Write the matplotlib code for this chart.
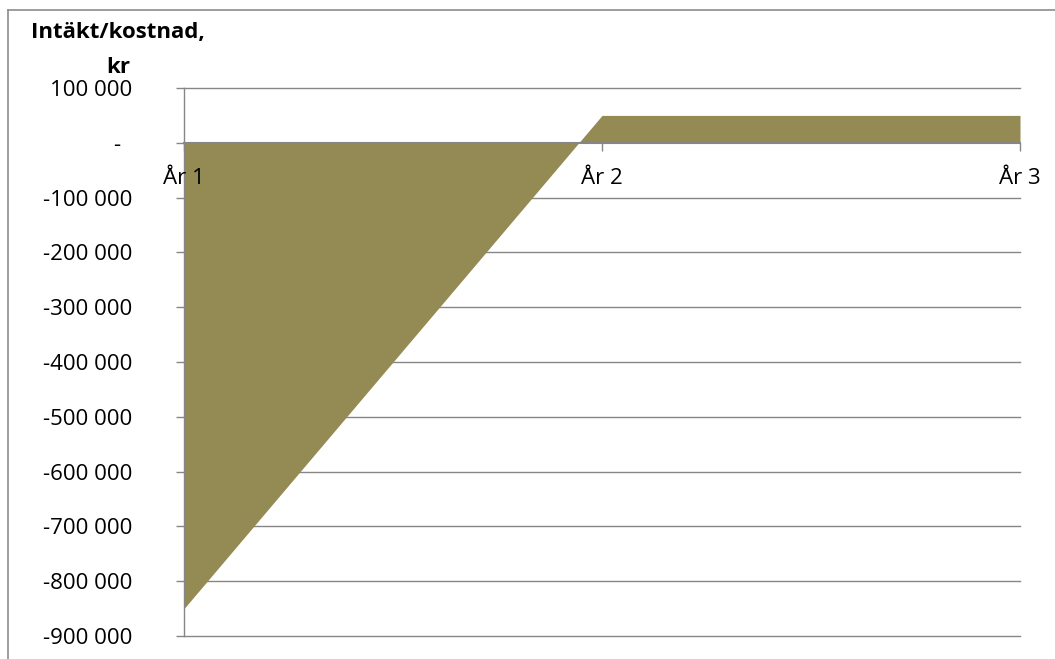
import matplotlib
matplotlib.use("Agg")
import matplotlib.pyplot as plt
from matplotlib.lines import Line2D
from matplotlib.ticker import FuncFormatter

categories = ["År 1", "År 2", "År 3"]
values = [-850000, 50000, 50000]
yticks = [100000, 0, -100000, -200000, -300000, -400000, -500000,
          -600000, -700000, -800000, -900000]
title_text = "Intäkt/kostnad,\nkr"

W, H = 1055, 659
fig = plt.figure(figsize=(W / 100, H / 100), dpi=100)
plt.rcParams['font.family'] = ['Open Sans', 'DejaVu Sans']

left, right, top, bottom = 184, 1020, 88, 636
ax = fig.add_axes([left / W, 1 - bottom / H, (right - left) / W, (bottom - top) / H])

fill_color = '#948A54'
grid_color = '#868686'

x = list(range(len(categories)))
ax.fill_between(x, values, 0, color=fill_color, linewidth=0, zorder=2)

ax.set_xlim(0, len(categories) - 1)
ax.set_ylim(-900000, 100000)
ax.set_yticks(yticks)
for yv in yticks:
    if yv != 0:
        ax.axhline(yv, color=grid_color, linewidth=1.0, zorder=1, clip_on=False)

def fmt(v, pos):
    if abs(v) < 1:
        return "-  "
    return f"{int(round(v)):,}".replace(",", " ")

ax.yaxis.set_major_formatter(FuncFormatter(fmt))
ax.set_axisbelow(False)

for s in ['top', 'right']:
    ax.spines[s].set_visible(False)
ax.spines['left'].set_color(grid_color)
ax.spines['left'].set_linewidth(1.0)
ax.spines['bottom'].set_position(('data', 0))
ax.spines['bottom'].set_color(grid_color)
ax.spines['bottom'].set_linewidth(1.5)

ax.set_xticks(x)
ax.set_xticklabels(categories)
ax.tick_params(axis='x', length=6, color=grid_color, width=1.0, pad=12,
               labelsize=16, labelcolor='black')
ax.tick_params(axis='y', length=6, color=grid_color, width=1.0, pad=31,
               labelsize=16, labelcolor='black')

fig.text(118 / W, 1 - 50 / H, title_text, ha='center', va='center',
         fontsize=16, fontweight='bold', linespacing=1.9)

# outer chart border
fig.add_artist(Line2D([8 / W, 8 / W], [1 - 10 / H, -0.05], color='#8c8c8c',
                      linewidth=1.2, transform=fig.transFigure))
fig.add_artist(Line2D([8 / W, 1.05], [1 - 10 / H, 1 - 10 / H], color='#8c8c8c',
                      linewidth=1.2, transform=fig.transFigure))

fig.savefig("out.png", dpi=100)
